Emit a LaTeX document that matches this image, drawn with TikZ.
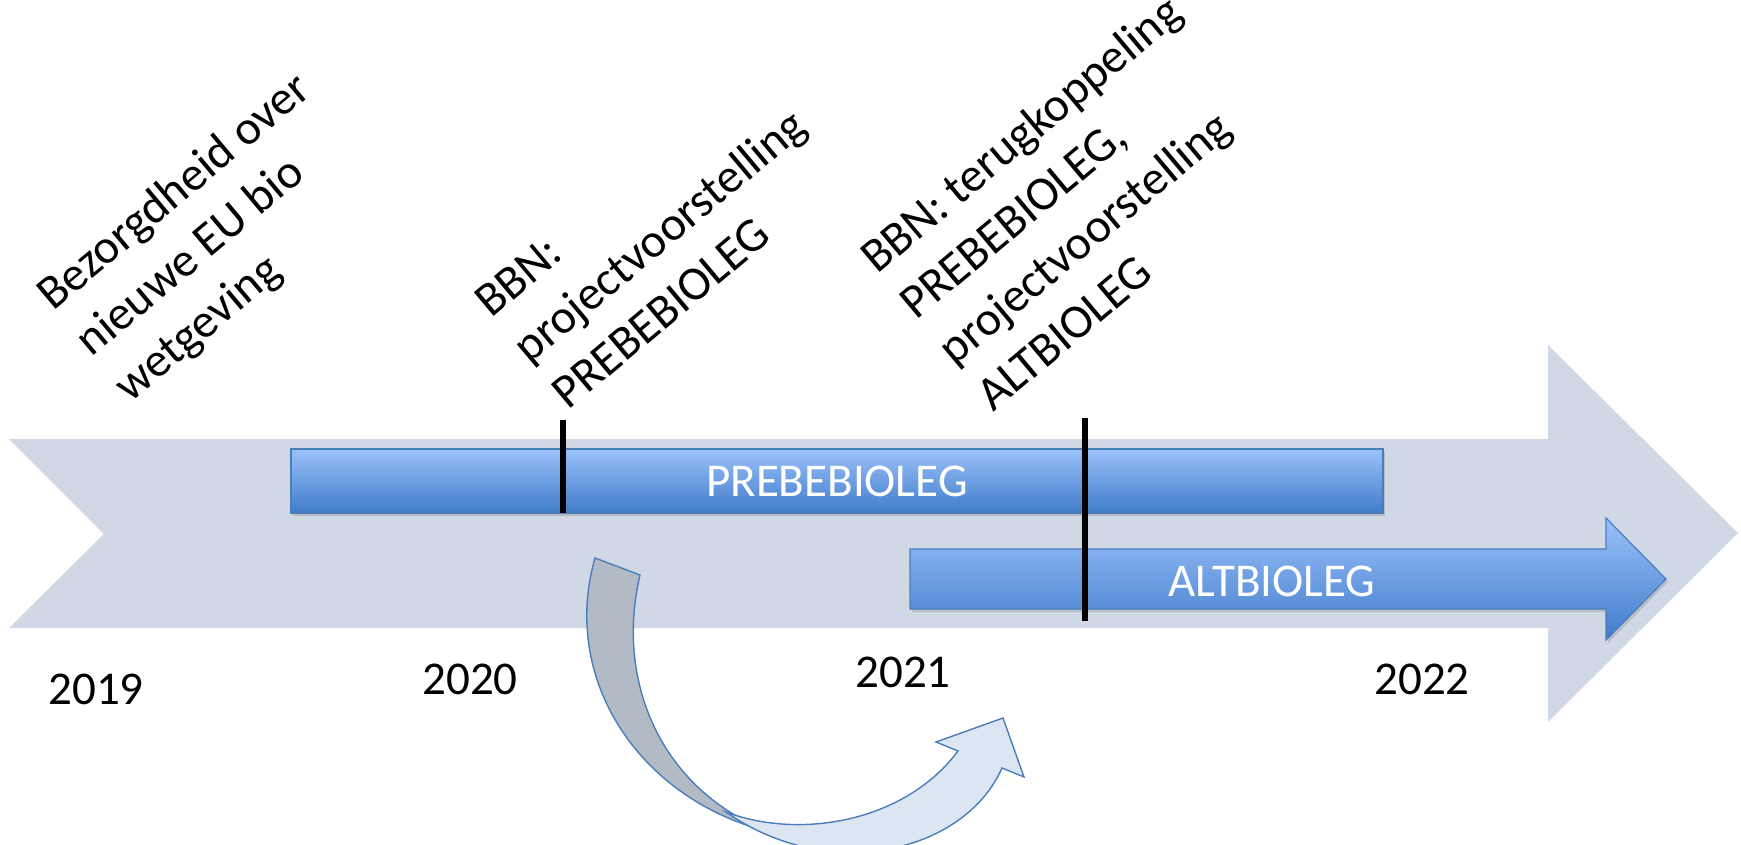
\documentclass[tikz,border=0pt]{standalone}
\usepackage{fontspec}
\setmainfont{Carlito}
\usetikzlibrary{shadows}
\definecolor{bgarrow}{RGB}{208,216,230}
\definecolor{bartop}{RGB}{155,193,250}
\definecolor{barbot}{RGB}{64,124,202}
\definecolor{barline}{RGB}{74,126,187}
\definecolor{curvedark}{RGB}{178,187,197}
\definecolor{curvelight}{RGB}{220,230,242}
\begin{document}
\begin{tikzpicture}[x=0.5pt,y=-0.5pt,
  lbl/.style={font=\fontsize{24pt}{30pt}\selectfont, align=left, rotate=40, anchor=base west, inner sep=0pt},
  year/.style={font=\fontsize{23.5pt}{28pt}\selectfont, inner sep=0pt},
  bartext/.style={font=\fontsize{23.5pt}{28pt}\selectfont, text=white, inner sep=0pt},
  barfill/.style={top color=bartop, bottom color=barbot, draw=barline, line width=0.6pt,
    drop shadow={opacity=0.3, shadow xshift=1pt, shadow yshift=-1.5pt}},
  marker/.style={line width=2.8pt, draw=black},
  curveline/.style={draw=barline, line width=0.7pt}]
\useasboundingbox (0,0) rectangle (1741,845);
% background timeline arrow
\fill[bgarrow] (9,439) -- (1548,439) -- (1548,345) -- (1738,533) -- (1548,722)
  -- (1548,628) -- (9,628) -- (104,534) -- cycle;
% PREBEBIOLEG bar
\node[barfill, bartext, minimum width=546pt, minimum height=32pt] (pre) at (837,481) {PREBEBIOLEG};
% ALTBIOLEG arrow
\path[barfill] (910,549) -- (1606,549) -- (1606,518) -- (1666,579) -- (1606,640)
  -- (1606,609) -- (910,609) -- cycle;
\node[bartext] (alt) at (1272,581) {ALTBIOLEG};
% markers
\coordinate (m1a) at (563,420); \coordinate (m1b) at (563,513);
\coordinate (m2a) at (1085,418); \coordinate (m2b) at (1085,621);
\draw[marker] (m1a) -- (m1b);
\draw[marker] (m2a) -- (m2b);
% curved arrow
\path[curveline, fill=curvedark] (595,558) .. controls (560,680) and (640,800) .. (770,832)
  .. controls (660,790) and (615,680) .. (640,575) -- cycle;
\path[curveline, fill=curvelight] (726,812) .. controls (800,840) and (905,822) .. (958,751)
  -- (936,742) -- (1003,718) -- (1024,777) -- (1002,768)
  .. controls (965,852) and (830,885) .. (726,812) -- cycle;
% years
\node[year] (y2019) at (96,689) {2019};
\node[year] (y2020) at (470,679) {2020};
\node[year] (y2021) at (903,672) {2021};
\node[year] (y2022) at (1422,679) {2022};
% rotated labels (anchored at the start of their last line)
\node[lbl] (l1) at (130,404) {Bezorgdheid over\\nieuwe EU bio\\wetgeving};
\node[lbl] (l2) at (568,411) {BBN:\\projectvoorstelling\\PREBEBIOLEG};
\node[lbl] (l3) at (993,413) {BBN: terugkoppeling\\PREBEBIOLEG,\\projectvoorstelling\\ALTBIOLEG};
\end{tikzpicture}
\end{document}
